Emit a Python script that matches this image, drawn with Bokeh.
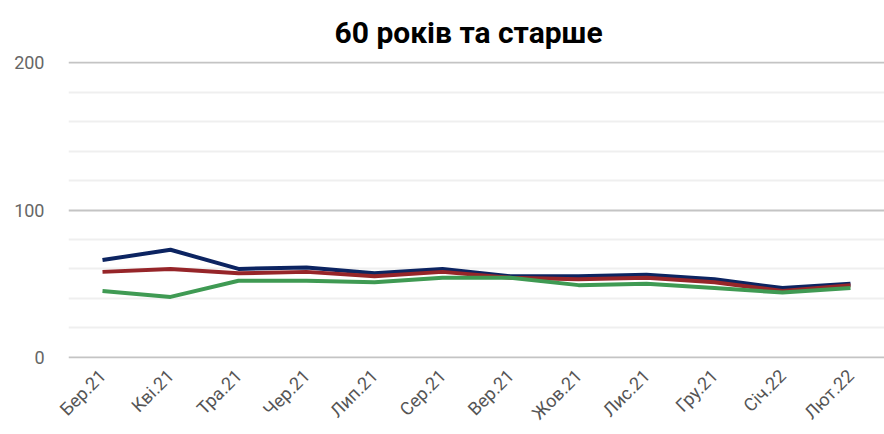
import math
from bokeh.plotting import figure
from bokeh.models import Range1d, FixedTicker
from bokeh.embed import file_html
from bokeh.resources import INLINE

months = ["Бер.21", "Кві.21", "Тра.21", "Чер.21", "Лип.21", "Сер.21",
          "Вер.21", "Жов.21", "Лис.21", "Гру.21", "Січ.22", "Лют.22"]
series_blue = [66, 73, 60, 61, 57, 60, 55, 55, 56, 53, 47, 50]
series_red = [58, 60, 57, 58, 55, 58, 54, 53, 54, 51, 45, 49]
series_green = [45, 41, 52, 52, 51, 54, 54, 49, 50, 47, 44, 47]
y_ticks = [0, 100, 200]
y_minor = [20, 40, 60, 80, 120, 140, 160, 180]

p = figure(x_range=months, width=884, height=434, output_backend="svg",
           toolbar_location=None, title="60 років та старше",
           min_border_left=68, min_border_right=0, min_border_top=60,
           min_border_bottom=76)
p.y_range = Range1d(-0.8, 200.8)
p.outline_line_color = None
p.background_fill_color = "white"

p.title.align = "left"
p.title.offset = 266
p.title.text_font = "Roboto"
p.title.text_font_style = "bold"
p.title.text_font_size = "30px"
p.title.text_color = "#000000"
p.title.standoff = 24

p.line(months, series_blue, line_color="#0c2461", line_width=4)
p.line(months, series_red, line_color="#962529", line_width=4)
p.line(months, series_green, line_color="#3f9a53", line_width=4)

p.yaxis.ticker = FixedTicker(ticks=y_ticks, minor_ticks=y_minor)
p.yaxis.axis_line_color = None
p.yaxis.major_tick_line_color = None
p.yaxis.minor_tick_line_color = None
p.yaxis.major_label_text_font = "Roboto"
p.yaxis.major_label_text_font_size = "18px"
p.yaxis.major_label_text_color = "#666666"
p.yaxis.major_label_standoff = 18

p.ygrid.grid_line_color = "#c4c4c4"
p.ygrid.grid_line_width = 2
p.ygrid.minor_grid_line_color = "#efefef"
p.ygrid.minor_grid_line_width = 2
p.xgrid.grid_line_color = None

p.xaxis.axis_line_color = None
p.xaxis.major_tick_line_color = None
p.xaxis.minor_tick_line_color = None
p.xaxis.major_label_orientation = math.pi / 4
p.xaxis.major_label_text_font = "Roboto"
p.xaxis.major_label_text_font_size = "18px"
p.xaxis.major_label_text_color = "#555555"
p.xaxis.major_label_standoff = 8

open("out.html", "w").write(file_html(p, INLINE))
